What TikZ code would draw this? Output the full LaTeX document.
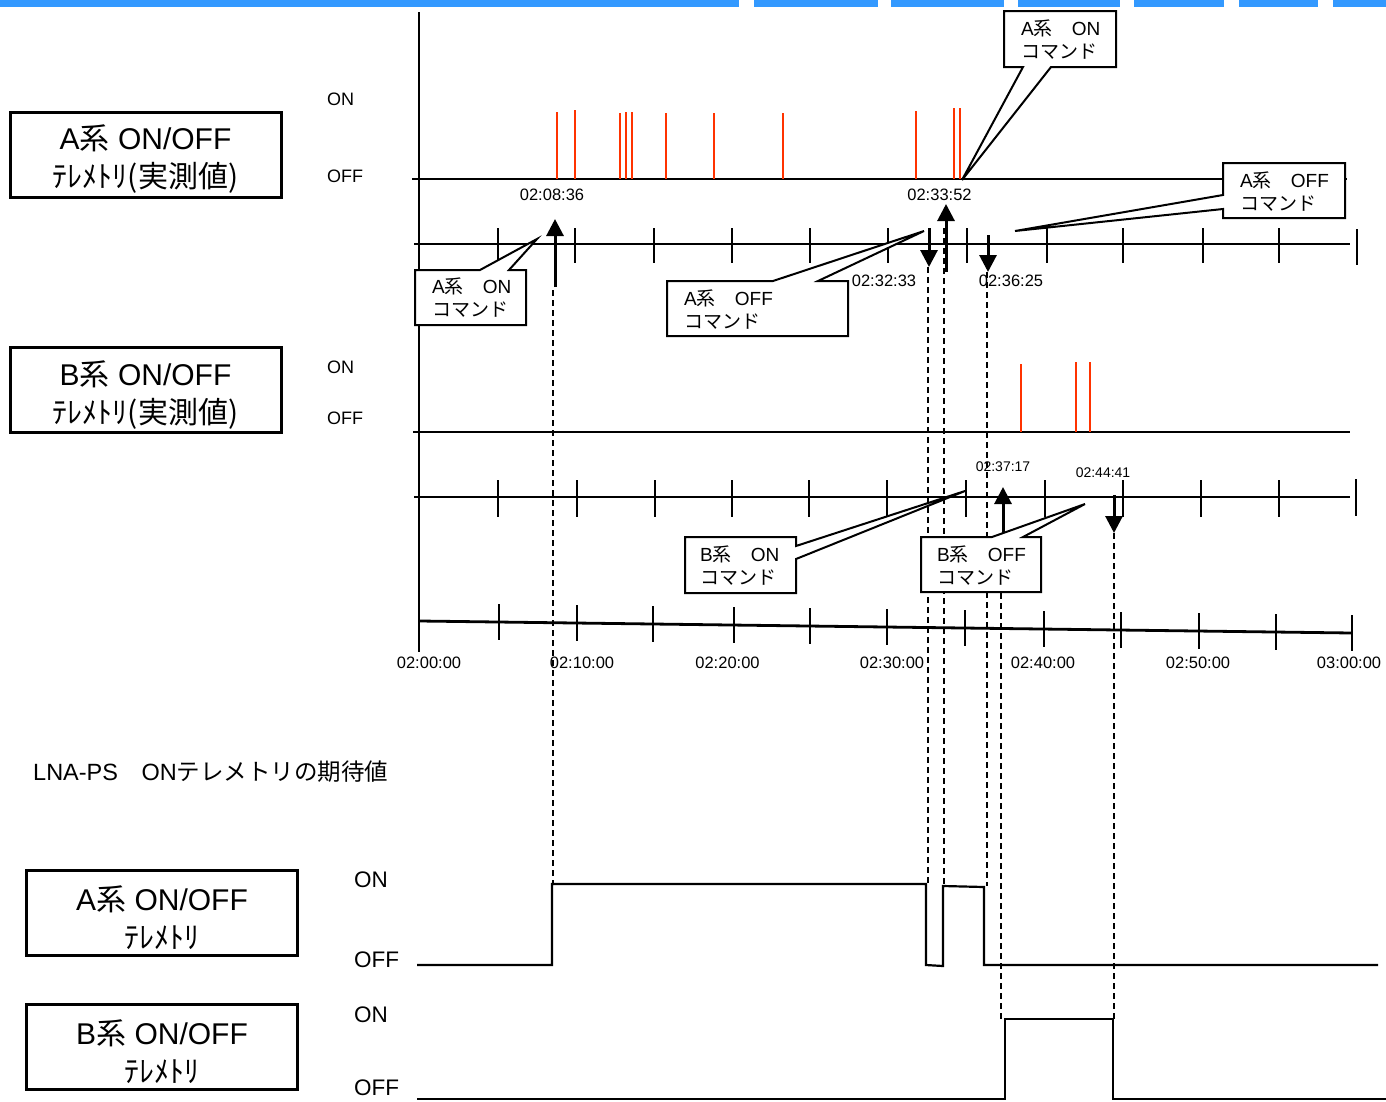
\documentclass[tikz,border=0pt]{standalone}
\usepackage{fontspec}
\setmainfont{Liberation Sans}
\newfontfamily\jp{Noto Sans CJK JP}
\usetikzlibrary{arrows.meta}
\newcommand{\J}[1]{{\jp #1}}
\definecolor{barblue}{HTML}{3399FF}
\definecolor{pulsered}{HTML}{FF3300}
\begin{document}
\begin{tikzpicture}[x=1pt,y=-1pt,
  axis/.style={line width=2.8pt},
  tickmark/.style={line width=2.8pt},
  pulse/.style={pulsered,line width=2.3pt},
  guide/.style={line width=1.6pt,dash pattern=on 6pt off 4pt},
  wave/.style={line width=2.2pt,line join=miter},
  lbox/.style={draw,line width=3pt,minimum width=271pt,minimum height=85pt,inner sep=0pt},
  btext/.style={inner sep=0pt,align=center,yshift=-5pt,font=\fontsize{30}{38}\selectfont},
  callout/.style={draw,fill=white,line width=2pt,line join=miter},
  ctext/.style={anchor=west,align=left,inner sep=0pt,font=\fontsize{19}{23}\selectfont},
  lvl/.style={anchor=west,inner sep=0pt,font=\fontsize{18}{18}\selectfont},
  lvlb/.style={anchor=west,inner sep=0pt,font=\fontsize{22.5}{22.5}\selectfont},
  tlab/.style={inner sep=0pt,font=\fontsize{16.5}{16.5}\selectfont},
  tsmall/.style={inner sep=0pt,font=\fontsize{14}{14}\selectfont},
  cmd/.style={line width=3pt,-{Triangle[length=17pt,width=17pt]}},
]
\useasboundingbox (0,0) rectangle (1386,1101);

% top bar
\foreach \a/\b in {0/739,754/878,891/1004,1018/1120,1134/1224,1239/1318,1333/1386}
  \fill[barblue] (\a,0) rectangle (\b,7);

% guide (dashed) lines
\draw[guide] (553,290) -- (553,884);
\draw[guide] (928,267) -- (928,884);
\draw[guide] (944,228) -- (944,886);
\draw[guide] (987,272) -- (987,886);
\draw[guide] (1001,533) -- (1001,1019);
\draw[guide] (1114,533) -- (1114,1019);

% vertical axis
\draw[line width=2.2pt] (419,12) -- (419,652);

% A telemetry (measured)
\draw[axis] (412,179) -- (1347,179);
\foreach \x/\t in {557/112,575/110,620/113,626/112,632/112,666/113,714/113,783/113,916/111,954/108,960/108}
  \draw[pulse] (\x,\t) -- (\x,179);

% A time axis
\draw[axis] (414,244) -- (1350,244);
\foreach \x in {498,575,654,732,810,888,967,1047,1123,1203,1279}
  \draw[tickmark] (\x,228) -- (\x,263);
\draw[tickmark] (1357,229) -- (1357,265);

% B telemetry (measured)
\draw[axis] (413,432) -- (1350,432);
\foreach \x/\t in {1021/364,1076/362,1090/362}
  \draw[pulse] (\x,\t) -- (\x,432);

% B time axis
\draw[axis] (414,497) -- (1350,497);
\foreach \x in {498,577,655,732,809,887,966,1045,1123,1201,1279}
  \draw[tickmark] (\x,480) -- (\x,517);
\draw[tickmark] (1356,479) -- (1356,516);

% common time axis (slightly tilted)
\draw[axis] (420,621) -- (1352,633);
\foreach \x in {499,577,653,734,810,887,965,1044,1121,1199,1276,1352}
  \draw[tickmark] (\x,{621+12*(\x-420)/932-18}) -- (\x,{621+12*(\x-420)/932+18});

% time labels
\foreach \x/\s in {429/02:00:00,582/02:10:00,727.5/02:20:00,892/02:30:00,1043/02:40:00,1198/02:50:00,1349/03:00:00}
  \node[tlab] at (\x,662.5) {\s};

% expected waveforms
\draw[wave] (417,965) -- (552,965) -- (552,884) -- (926,884) -- (926,965) -- (943,966) -- (943,886) -- (984,887) -- (984,965) -- (1378,965);
\draw[wave] (417,1099) -- (1005,1099) -- (1005,1019) -- (1113,1019) -- (1113,1099) -- (1386,1099);

% callouts
\draw[callout] (415,270) -- (480,270) -- (537,239) -- (509,270) -- (526,270) -- (526,325) -- (415,325) -- cycle;
\node[ctext] (c1) at (432,298) {A\J{系　}ON\\\J{コマンド}};

\draw[callout] (667,281) -- (773,281) -- (924,231) -- (818,281) -- (848,281) -- (848,336) -- (667,336) -- cycle;
\node[ctext] (c2) at (684,309.5) {A\J{系　}OFF\\\J{コマンド}};

\draw[callout] (1004,11) -- (1116,11) -- (1116,67) -- (1051,67) -- (962,180) -- (1023,67) -- (1004,67) -- cycle;
\node[ctext] (c3) at (1021,40) {A\J{系　}ON\\\J{コマンド}};

\draw[callout] (1223,163) -- (1345,163) -- (1345,218) -- (1223,218) -- (1223,209) -- (1015,231) -- (1223,195) -- cycle;
\node[ctext] (c4) at (1240,191.5) {A\J{系　}OFF\\\J{コマンド}};

\draw[callout] (685,537) -- (796,537) -- (796,546) -- (965,491) -- (796,559) -- (796,593) -- (685,593) -- cycle;
\node[ctext] (c5) at (700,565.5) {B\J{系　}ON\\\J{コマンド}};

\draw[callout] (921,537) -- (992,537) -- (1085,504) -- (1023,537) -- (1041,537) -- (1041,592) -- (921,592) -- cycle;
\node[ctext] (c6) at (937,566) {B\J{系　}OFF\\\J{コマンド}};

% command arrows
\draw[cmd] (555,287) -- (555,219);
\draw[cmd] (929,228) -- (929,267);
\draw[cmd] (946,272) -- (946,204);
\draw[cmd] (988,235) -- (988,272);
\draw[cmd] (1003,533) -- (1003,487);
\draw[cmd] (1114,495) -- (1114,533);

% command time labels
\node[tlab] (t1) at (552,194.5) {02:08:36};
\node[tlab] (t2) at (939.5,194.5) {02:33:52};
\node[tlab] (t3) at (884,280.5) {02:32:33};
\node[tlab] (t4) at (1011,280.5) {02:36:25};
\node[tsmall] (t5) at (1003,467) {02:37:17};
\node[tsmall] (t6) at (1103,473) {02:44:41};

% level labels
\node[lvl] at (327,99.5) {ON};
\node[lvl] at (327,176) {OFF};
\node[lvl] at (327,367) {ON};
\node[lvl] at (327,418) {OFF};
\node[lvlb] at (354,880) {ON};
\node[lvlb] at (354,960) {OFF};
\node[lvlb] at (354,1014.5) {ON};
\node[lvlb] at (354,1088) {OFF};

% left boxes
\node[lbox] (boxA) at (145.5,154.5) {};
\node[btext] (boxAt) at (boxA.center) {A\J{系} ON/OFF\\\J{ﾃﾚﾒﾄﾘ(実測値)}};
\node[lbox] (boxB) at (145.5,390) {};
\node[btext] (boxBt) at (boxB.center) {B\J{系} ON/OFF\\\J{ﾃﾚﾒﾄﾘ(実測値)}};
\node[lbox] (boxC) at (162,912.5) {};
\node[btext] (boxCt) at (boxC.center) {A\J{系} ON/OFF\\\J{ﾃﾚﾒﾄﾘ}};
\node[lbox] (boxD) at (162,1047) {};
\node[btext] (boxDt) at (boxD.center) {B\J{系} ON/OFF\\\J{ﾃﾚﾒﾄﾘ}};

% title of expected section
\node[anchor=west,inner sep=0pt,font=\fontsize{23.5}{23.5}\selectfont] (lna) at (33,772) {LNA-PS\J{　}ON\J{テレメトリの期待値}};
\end{tikzpicture}
\end{document}
